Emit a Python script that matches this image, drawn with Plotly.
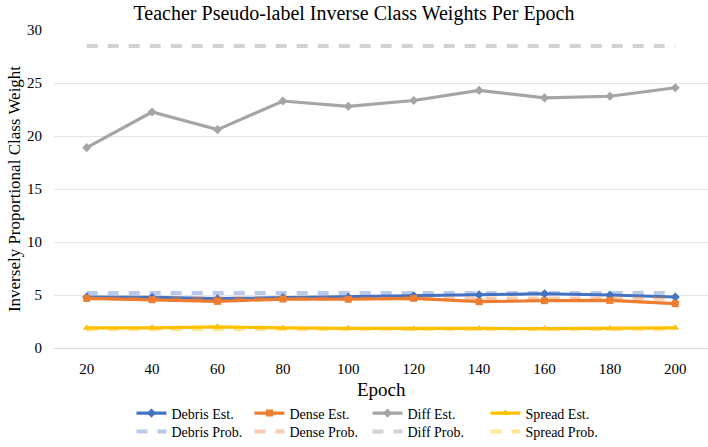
import plotly.graph_objects as go

epochs = ["20", "40", "60", "80", "100", "120", "140", "160", "180", "200"]

debris_est = [4.80, 4.78, 4.65, 4.75, 4.78, 4.93, 5.03, 5.12, 5.00, 4.81]
dense_est = [4.68, 4.56, 4.40, 4.62, 4.60, 4.68, 4.37, 4.46, 4.49, 4.18]
diff_est = [18.9, 22.26, 20.6, 23.3, 22.8, 23.35, 24.3, 23.6, 23.75, 24.55]
spread_est = [1.89, 1.90, 2.00, 1.89, 1.86, 1.82, 1.85, 1.83, 1.83, 1.90]

debris_prob = [5.19] * 10
dense_prob = [4.66] * 10
diff_prob = [28.5] * 10
spread_prob = [1.76] * 10

series_est = [
    ("Debris Est.", debris_est, "#4472C4", "diamond"),
    ("Dense Est.", dense_est, "#ED7D31", "square"),
    ("Diff Est.", diff_est, "#A5A5A5", "diamond"),
    ("Spread Est.", spread_est, "#FFC000", "triangle-up"),
]
series_prob = [
    ("Debris Prob.", debris_prob, "rgba(68,114,196,0.38)"),
    ("Dense Prob.", dense_prob, "rgba(237,125,49,0.40)"),
    ("Diff Prob.", diff_prob, "rgba(165,165,165,0.50)"),
    ("Spread Prob.", spread_prob, "rgba(255,192,0,0.40)"),
]

FONT = "Liberation Serif"

fig = go.Figure()
for name, vals, col, sym in series_est:
    fig.add_trace(go.Scatter(
        x=epochs, y=vals, name=name, mode="lines+markers",
        line=dict(color=col, width=3.2),
        marker=dict(symbol=sym, size=7, color=col),
        legend="legend",
    ))
for name, vals, col in series_prob:
    fig.add_trace(go.Scatter(
        x=epochs, y=vals, name=name, mode="lines",
        line=dict(color=col, width=4, dash="11px,10px"),
        legend="legend2",
    ))

fig.update_layout(
    width=708, height=447,
    margin=dict(l=54, r=0, t=30, b=99),
    paper_bgcolor="white", plot_bgcolor="white",
    font=dict(family=FONT, color="#000000", size=15),
    title=dict(text="Teacher Pseudo-label Inverse Class Weights Per Epoch",
               x=0.5, xanchor="center", y=0.971, yanchor="middle",
               font=dict(family=FONT, size=20, color="#000")),
    xaxis=dict(type="category", range=[-0.5, 9.5], showgrid=False,
               showline=False, ticks="", ticklabelstandoff=10,
               tickfont=dict(family=FONT, size=15, color="#000"),
               automargin=False),
    yaxis=dict(range=[0, 30], dtick=5, showgrid=True, gridcolor="#E6E6E6",
               gridwidth=1, zeroline=True, zerolinecolor="#D6D6D6", zerolinewidth=1.3,
               showline=False, ticks="", ticklabelstandoff=11,
               tickfont=dict(family=FONT, size=15, color="#000"),
               automargin=False),
    annotations=[
        dict(text="Inversely Proportional Class Weight",
             xref="paper", yref="paper", x=-0.061, y=0.5,
             xanchor="center", yanchor="middle", textangle=-90,
             showarrow=False, font=dict(family=FONT, size=17, color="#000")),
        dict(text="Epoch", xref="paper", yref="paper", x=0.5, y=-0.129,
             xanchor="center", yanchor="middle", showarrow=False,
             font=dict(family=FONT, size=19, color="#000")),
    ],
    legend=dict(orientation="h", xref="container", yref="container",
                x=0.1857, y=0.075, xanchor="left", yanchor="middle",
                entrywidth=73, entrywidthmode="pixels",
                itemwidth=30, font=dict(family=FONT, size=14, color="#000"),
                bgcolor="rgba(0,0,0,0)", tracegroupgap=0),
    legend2=dict(orientation="h", xref="container", yref="container",
                 x=0.1857, y=0.034, xanchor="left", yanchor="middle",
                 entrywidth=73, entrywidthmode="pixels",
                 itemwidth=30, font=dict(family=FONT, size=14, color="#000"),
                 bgcolor="rgba(0,0,0,0)", tracegroupgap=0),
    showlegend=True,
)

fig.write_html("out.html", config={"displayModeBar": False},
               post_script="document.body.style.margin='0px';")
